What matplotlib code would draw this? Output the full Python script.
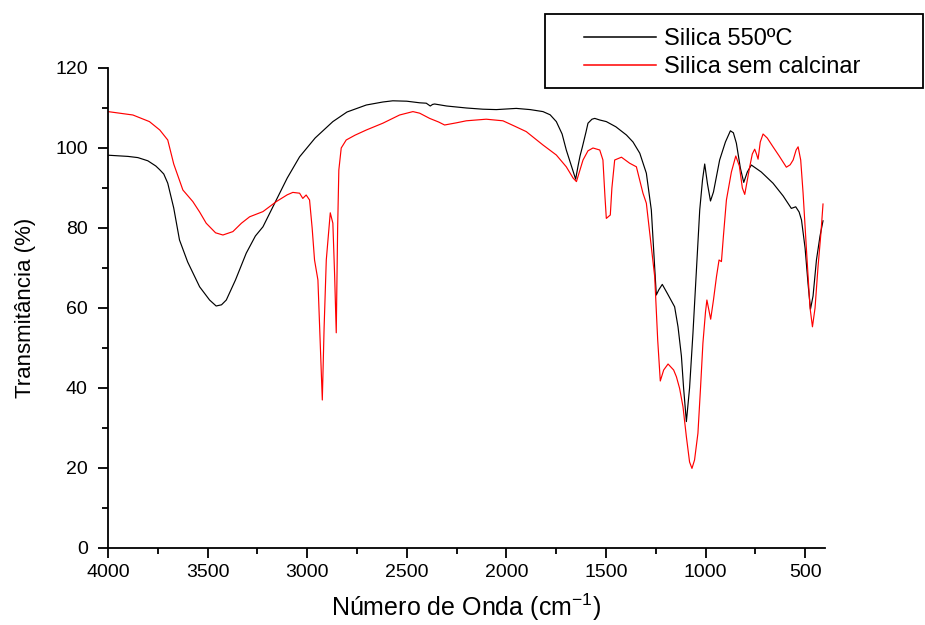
import matplotlib
matplotlib.use("Agg")
import matplotlib.pyplot as plt
from matplotlib.ticker import MultipleLocator
from matplotlib.patches import Rectangle
from matplotlib.lines import Line2D

plt.rcParams['font.family'] = ['Liberation Sans', 'DejaVu Sans']
plt.rcParams['mathtext.default'] = 'regular'

# FTIR spectrum: calcined silica (550 ºC)
calc_wn = [4000, 3900, 3850, 3800, 3760, 3741, 3720, 3700, 3670, 3641, 3600, 3540,
           3490, 3457, 3430, 3406, 3360, 3306, 3260, 3222, 3155, 3100, 3038, 2960,
           2871, 2800, 2703, 2620, 2570, 2500, 2435, 2402, 2382, 2370, 2360, 2300,
           2200, 2118, 2050, 1950, 1880, 1816, 1780, 1749, 1720, 1699, 1670, 1652,
           1640, 1630, 1618, 1600, 1590, 1570, 1556, 1531, 1498, 1450, 1397, 1364,
           1330, 1297, 1272, 1255, 1247, 1235, 1217, 1190, 1155, 1138, 1121, 1110,
           1096, 1080, 1063, 1045, 1029, 1015, 1004, 990, 975, 960, 929, 900, 875,
           860, 845, 825, 808, 790, 770, 720, 661, 610, 569, 547, 530, 518, 500,
           485, 473, 460, 443, 425, 410]
calc_T = [98.2, 97.9, 97.6, 96.8, 95.5, 94.6, 93.5, 91.2, 85.0, 77.0, 71.5, 65.3,
          62.0, 60.5, 60.8, 62.0, 67.0, 73.7, 78.0, 80.3, 87.0, 92.5, 97.8, 102.5,
          106.6, 109.0, 110.75, 111.5, 111.8, 111.7, 111.3, 111.2, 110.5, 110.9, 111.0, 110.5,
          110.0, 109.7, 109.6, 109.9, 109.6, 109.1, 108.3, 106.6, 103.5, 99.5, 95.0, 92.2,
          95.5, 98.0, 100.3, 104.0, 106.2, 107.2, 107.4, 107.0, 106.6, 105.3, 103.25, 101.5,
          98.7, 93.7, 84.5, 70.0, 63.25, 64.5, 65.9, 63.5, 60.3, 55.3, 48.0, 40.0,
          31.6, 40.0, 53.7, 70.0, 84.5, 92.0, 96.0, 91.0, 86.75, 89.0, 97.0, 101.5, 104.3,
          103.8, 101.2, 95.0, 91.4, 94.0, 95.75, 94.0, 91.2, 88.0, 84.9, 85.3, 84.0, 82.0, 75.0,
          66.0, 59.7, 63.0, 72.0, 78.0, 81.8]

# FTIR spectrum: uncalcined silica
raw_wn = [4000, 3875, 3792, 3740, 3700, 3670, 3624, 3574, 3540, 3507, 3460, 3423,
          3373, 3330, 3289, 3222, 3155, 3100, 3072, 3038, 3022, 3005, 2988, 2975,
          2963, 2946, 2935, 2924, 2915, 2904, 2884, 2871, 2862, 2854, 2847, 2841,
          2829, 2804, 2760, 2703, 2620, 2536, 2469, 2435, 2385, 2340, 2310, 2250,
          2201, 2101, 2017, 1960, 1900, 1816, 1749, 1699, 1665, 1648, 1630, 1615,
          1590, 1565, 1531, 1515, 1505, 1498, 1478, 1470, 1456, 1422, 1381, 1347,
          1314, 1297, 1272, 1255, 1240, 1227, 1210, 1188, 1160, 1146, 1130, 1113,
          1096, 1080, 1068, 1055, 1038, 1025, 1013, 1000, 993, 985, 974, 960, 945,
          932, 920, 910, 895, 870, 848, 830, 815, 803, 790, 778, 765, 753, 744, 736,
          725, 711, 690, 661, 630, 594, 575, 560, 545, 535, 522, 510, 490, 475, 463,
          450, 435, 420, 410]
raw_T = [109.1, 108.25, 106.6, 104.5, 102.0, 96.0, 89.5, 86.6, 84.0, 81.2, 78.8, 78.25,
         79.1, 81.2, 82.8, 84.1, 86.6, 88.3, 88.9, 88.7, 87.4, 88.25, 87.0, 80.0,
         72.0, 67.0, 52.0, 37.0, 55.0, 72.0, 83.8, 81.2, 68.0, 53.8, 80.0, 94.5,
         100.0, 102.0, 103.2, 104.5, 106.2, 108.25, 109.1, 108.7, 107.4, 106.5, 105.75, 106.3,
         106.8, 107.2, 106.8, 105.5, 104.1, 100.75, 98.25, 95.3, 92.5, 91.6, 94.5, 97.0,
         99.3, 100.0, 99.5, 97.0, 88.0, 82.4, 83.25, 90.0, 97.0, 97.7, 96.2, 95.3,
         88.7, 86.2, 75.3, 67.8, 52.0, 41.75, 44.5, 46.0, 44.5, 42.8, 39.9, 35.3,
         27.8, 21.5, 19.9, 22.0, 28.7, 40.0, 51.2, 59.0, 62.0, 60.0, 57.2, 62.0, 67.8,
         72.0, 71.6, 78.0, 87.0, 94.0, 98.0, 95.5, 90.0, 88.4, 92.0, 95.3, 98.5, 99.7, 98.5, 97.2,
         101.5, 103.5, 102.5, 100.3, 98.0, 95.2, 95.8, 97.0, 99.5, 100.3, 97.0, 88.7, 72.0, 60.0, 55.3,
         60.0, 70.3, 79.0, 86.0]

labels = ['Silica 550ºC', 'Silica sem calcinar']
colors = ['black', 'red']
x_ticks = [4000, 3500, 3000, 2500, 2000, 1500, 1000, 500]
y_ticks = [0, 20, 40, 60, 80, 100, 120]

W, H = 925, 625
fig = plt.figure(figsize=(W / 100, H / 100), dpi=100)
ax = fig.add_axes([108 / W, 1 - 548 / H, 717 / W, 480 / H])

ax.plot(calc_wn, calc_T, color=colors[0], lw=0.85)
ax.plot(raw_wn, raw_T, color=colors[1], lw=0.85)

ax.set_xlim(4000, 400)
ax.set_ylim(0, 120)
ax.set_xticks(x_ticks)
ax.set_yticks(y_ticks)
ax.xaxis.set_minor_locator(MultipleLocator(250))
ax.yaxis.set_minor_locator(MultipleLocator(10))
for s in ('top', 'right'):
    ax.spines[s].set_visible(False)
for s in ('left', 'bottom'):
    ax.spines[s].set_linewidth(1.3)
ax.tick_params(which='major', direction='out', length=7.5, width=1.3, labelsize=14)
ax.tick_params(which='minor', direction='out', length=4.5, width=1.3)
ax.tick_params(axis='x', which='major', pad=4)
ax.tick_params(axis='y', which='major', pad=7)

ax.set_xlabel('Número de Onda (cm$^{-1}$)', fontsize=18, labelpad=8)
ax.set_ylabel('Transmitância (%)', fontsize=16, labelpad=14)

# key box above the plot, top right
fig.add_artist(Rectangle((545 / W, 1 - 88 / H), 378 / W, 74 / H, transform=fig.transFigure,
                         facecolor='white', edgecolor='black', lw=1.3))
for i, (lab, col) in enumerate(zip(labels, colors)):
    yc = 37 + 28 * i
    fig.add_artist(Line2D([584 / W, 656 / W], [1 - yc / H, 1 - yc / H],
                          transform=fig.transFigure, color=col, lw=1.1))
    fig.text(664 / W, 1 - (yc + 8.3) / H, lab, fontsize=17, ha='left', va='baseline')

fig.savefig('out.png', dpi=100)
